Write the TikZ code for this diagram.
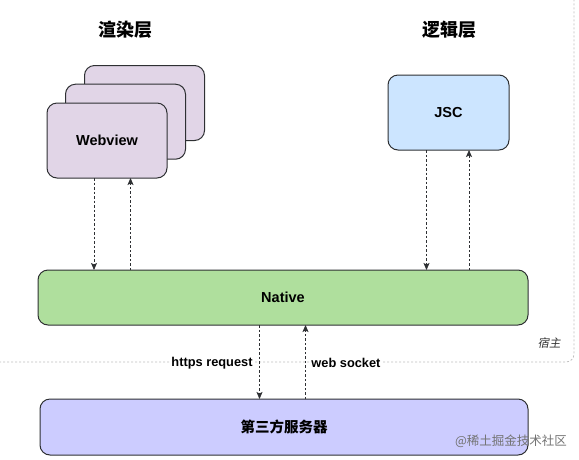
\documentclass[tikz,border=0pt]{standalone}
\usepackage{fontspec}
\setmainfont{Liberation Sans}
\newfontfamily\cjk{Noto Sans CJK SC}
\newfontfamily\cjkit{Noto Sans CJK SC}[FakeSlant=0.2]
\usetikzlibrary{arrows.meta,calc}
\definecolor{webfill}{HTML}{E1D5E7}
\definecolor{jscfill}{HTML}{CCE5FF}
\definecolor{natfill}{HTML}{AFDF9D}
\definecolor{srvfill}{HTML}{CCCCFF}
\definecolor{edge}{HTML}{2E3033}
\begin{document}
\begin{tikzpicture}[x=1pt,y=-1pt,
  box/.style={draw=edge,line width=1pt,rounded corners=10pt,inner sep=0pt,outer sep=0pt,
    font=\bfseries\fontsize{14.5}{16}\selectfont},
  flow/.style={draw=edge,line width=0.8pt,dash pattern=on 2.5pt off 2pt,
    -{Stealth[length=7pt,width=6pt,inset=1.5pt]}},
  title/.style={font=\cjk\bfseries\fontsize{18}{20}\selectfont},
  lbl/.style={fill=white,inner sep=1.5pt,font=\bfseries\fontsize{12.8}{14}\selectfont},
  hostline/.style={draw=black!25,line width=0.8pt,dash pattern=on 2pt off 2pt}]
\useasboundingbox (0,0) rectangle (579,459);
% host container
\draw[hostline,rounded corners=8pt] (-5,362) -- (574,362) -- (574,-5);
\node[font=\cjkit\fontsize{11.5}{13}\selectfont,text=black!80] (host) at (549,343) {宿主};
% titles
\node[title] (t1) at (125,30) {渲染层};
\node[title] (t2) at (449,30) {逻辑层};
% webview stack
\node[box,fill=webfill,minimum width=120pt,minimum height=75pt] (web3) at (144.5,103) {};
\node[box,fill=webfill,minimum width=120pt,minimum height=75pt] (web2) at (125.5,121.7) {};
\node[box,fill=webfill,minimum width=120pt,minimum height=75pt] (web) at (107,140.5) {Webview};
% JSC
\node[box,fill=jscfill,minimum width=121pt,minimum height=75pt] (jsc) at (448.5,112.5) {JSC};
% Native
\node[box,fill=natfill,minimum width=490pt,minimum height=55pt] (nat) at (283,297.5) {Native};
% server
\node[box,fill=srvfill,minimum width=488pt,minimum height=56pt,font=\cjk\bfseries\fontsize{14.5}{16}\selectfont] (srv) at (284,427) {第三方服务器};
% connectors webview <-> native
\draw[flow] ([xshift=-13pt]web.south) -- ([xshift=-13pt]web.south |- nat.north);
\draw[flow] ([xshift=23.5pt]web.south |- nat.north) -- ([xshift=23.5pt]web.south);
% connectors jsc <-> native
\draw[flow] ([xshift=-22pt]jsc.south) -- ([xshift=-22pt]jsc.south |- nat.north);
\draw[flow] ([xshift=20.5pt]jsc.south |- nat.north) -- ([xshift=20.5pt]jsc.south);
% native <-> server
\draw[flow] ([xshift=-23.5pt]nat.south) -- ([xshift=-23.5pt]nat.south |- srv.north);
\draw[flow] ([xshift=22.5pt]nat.south |- srv.north) -- ([xshift=22.5pt]nat.south);
% labels
\node[lbl] (l1) at (212,363) {https request};
\node[lbl] (l2) at (346,363) {web socket};
% watermark
\node[font=\cjk\fontsize{12.5}{14}\selectfont,text=black!55,inner sep=0pt] (wm) at (511,441) {@稀土掘金技术社区};
\end{tikzpicture}
\end{document}
